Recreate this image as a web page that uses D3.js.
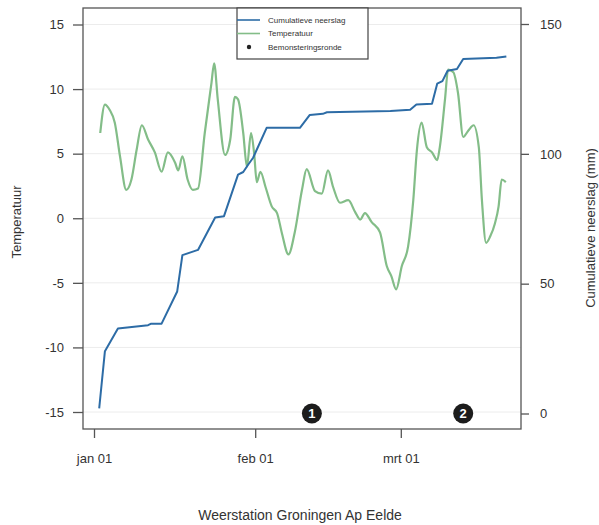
<!DOCTYPE html>
<html>
<head>
<meta charset="utf-8">
<script src="https://cdn.jsdelivr.net/npm/d3@7"></script>
<style>
  html, body { margin: 0; padding: 0; background: #fff; }
  svg { display: block; font-family: "Liberation Sans", Arial, sans-serif; }
</style>
</head>
<body>
<svg id="chart" width="599" height="525"></svg>
<script>
// ---- data (day offset from 1 January) ----
const precipDays = [1, 2.1, 4.6, 10.4, 11, 13, 16, 17, 20, 23.3, 25, 27.7, 28.7, 29.7, 30.6, 33.2, 39.6, 41.5, 44, 44.8, 57, 60.8, 62, 65, 66, 67, 68, 69.8, 71, 77.4, 79.3];
const precipVals = [2, 24, 32.7, 34, 34.6, 34.6, 47, 61, 63, 75.5, 76, 92, 93, 96, 98.5, 110, 110, 115, 115.4, 116, 116.5, 117, 119, 119.3, 127, 128, 132, 132.7, 136.5, 137, 137.5];

const tempDays = [1.2, 2.1, 3, 4, 5, 6.2, 7.2, 8.2, 9.2, 10.4, 11.7, 13, 14.2, 15.6, 16.2, 17, 18, 19, 20, 21.3, 22.6, 23.1, 23.8, 25.2, 26.2, 27.1, 27.7, 28.7, 29.4, 30.2, 30.8, 31.3, 32, 33, 34.2, 35.2, 36.1, 37.4, 38.6, 40, 40.9, 42.5, 43.8, 45, 46, 47.3, 48.9, 50.2, 51.2, 52.1, 53.4, 55, 56.3, 57.2, 58.1, 59.2, 60.4, 61.4, 62.1, 63, 64, 65, 66, 66.5, 67.5, 68.1, 69.1, 70, 71, 72, 73, 74, 74.6, 75.4, 76.2, 77.1, 77.8, 78.4, 79.2];
const tempVals = [6.6, 8.8, 8.4, 7.4, 4.8, 2.2, 3.0, 5.3, 7.2, 6.1, 5.1, 3.6, 5.1, 4.3, 3.7, 4.8, 3.0, 2.2, 2.3, 6.6, 10.5, 12.0, 9.2, 4.9, 6.1, 9.4, 9.2, 6.6, 4.0, 6.6, 5.0, 2.8, 3.6, 2.4, 0.9, 0.4, -1.1, -2.8, -1.1, 2.2, 3.8, 2.1, 1.9, 3.7, 2.4, 1.2, 1.4, 0.5, -0.1, 0.4, -0.3, -1.1, -3.7, -4.5, -5.5, -3.7, -2.2, 1.4, 5.3, 7.4, 5.5, 5.1, 4.5, 5.5, 9.2, 11.5, 11.3, 9.7, 6.3, 6.8, 7.2, 5.5, 1.4, -1.9, -1.4, -0.4, 0.9, 3.0, 2.8];

const markerDays = [41.9, 71];
const markerLabels = ["1", "2"];

const tempTicks = [-15, -10, -5, 0, 5, 10, 15];
const precipTicks = [0, 50, 100, 150];
const dateTicks = ["2015-01-01", "2015-02-01", "2015-03-01"];
const dateTickLabels = ["jan 01", "feb 01", "mrt 01"];

const legendLabels = ["Cumulatieve neerslag", "Temperatuur", "Bemonsteringsronde"];
const titleText = "Weerstation Groningen Ap Eelde";
const leftLabel = "Temperatuur";
const rightLabel = "Cumulatieve neerslag (mm)";

// ---- layout ----
const svg = d3.select("#chart");
const box = { left: 83, right: 521, top: 8, bottom: 429 };
const blue = "#2d6ca6";
const green = "#83bd88";
const axisCol = "#555";
const textCol = "#333";

const start = new Date(2015, 0, 1);
const dayToDate = d => new Date(start.getTime() + d * 86400000);

const x = d3.scaleTime()
  .domain([dayToDate(0), dayToDate(80)])
  .range([94, 94 + 80 * 5.2]);
const yT = d3.scaleLinear().domain([-15, 15]).range([412, 24.5]);
const yP = d3.scaleLinear().domain([0, 150]).range([413.5, 24]);

// gridlines (faint)
svg.append("g").selectAll("line").data(tempTicks).join("line")
  .attr("x1", box.left).attr("x2", box.right)
  .attr("y1", d => yT(d)).attr("y2", d => yT(d))
  .attr("stroke", "#ececec").attr("stroke-width", 1);

// plot box
svg.append("rect")
  .attr("x", box.left).attr("y", box.top)
  .attr("width", box.right - box.left).attr("height", box.bottom - box.top)
  .attr("fill", "none").attr("stroke", axisCol).attr("stroke-width", 1.3);

// left axis
const gL = svg.append("g").attr("transform", `translate(${box.left},0)`)
  .call(d3.axisLeft(yT).tickValues(tempTicks).tickSize(10).tickPadding(9).tickFormat(d3.format("d")));
gL.select(".domain").remove();
gL.selectAll("line").attr("stroke", axisCol).attr("stroke-width", 1.3);
gL.selectAll("text").attr("fill", textCol).style("font-size", "13px")
  .text(d => d < 0 ? "-" + Math.abs(d) : d);

// right axis
const gR = svg.append("g").attr("transform", `translate(${box.right},0)`)
  .call(d3.axisRight(yP).tickValues(precipTicks).tickSize(8).tickPadding(11));
gR.select(".domain").remove();
gR.selectAll("line").attr("stroke", axisCol).attr("stroke-width", 1.3);
gR.selectAll("text").attr("fill", textCol).style("font-size", "13px");

// bottom axis
const parse = d3.timeParse("%Y-%m-%d");
const tickDates = dateTicks.map(parse);
const gB = svg.append("g").attr("transform", `translate(0,${box.bottom})`)
  .call(d3.axisBottom(x).tickValues(tickDates).tickSize(9).tickPadding(16)
    .tickFormat((d, i) => dateTickLabels[i]));
gB.select(".domain").remove();
gB.selectAll("line").attr("stroke", axisCol).attr("stroke-width", 1.3);
gB.selectAll("text").attr("fill", textCol).style("font-size", "13px");

// lines
const precipData = precipDays.map((d, i) => ({ d: dayToDate(d), v: precipVals[i] }));
const tempData = tempDays.map((d, i) => ({ d: dayToDate(d), v: tempVals[i] }));

svg.append("path").datum(tempData)
  .attr("fill", "none").attr("stroke", green).attr("stroke-width", 2.2)
  .attr("stroke-linejoin", "round")
  .attr("d", d3.line().curve(d3.curveMonotoneX).x(p => x(p.d)).y(p => yT(p.v)));

svg.append("path").datum(precipData)
  .attr("fill", "none").attr("stroke", blue).attr("stroke-width", 2)
  .attr("stroke-linejoin", "round")
  .attr("d", d3.line().x(p => x(p.d)).y(p => yP(p.v)));

// markers (sampling rounds)
const mk = svg.append("g").selectAll("g").data(markerDays).join("g")
  .attr("transform", d => `translate(${x(dayToDate(d))},${yP(0)})`);
mk.append("circle").attr("r", 10).attr("fill", "#1c1c1c");
mk.append("text").text((d, i) => markerLabels[i])
  .attr("text-anchor", "middle").attr("dy", "0.36em")
  .attr("fill", "#fff").style("font-size", "13px").style("font-weight", "bold");

// legend
const lg = svg.append("g").attr("transform", "translate(237,8)");
lg.append("rect").attr("width", 131).attr("height", 51)
  .attr("fill", "#fff").attr("stroke", "#444").attr("stroke-width", 1.2);
const rows = [12, 25.5, 39];
lg.append("line").attr("x1", 0).attr("x2", 23).attr("y1", rows[0]).attr("y2", rows[0])
  .attr("stroke", blue).attr("stroke-width", 1.6);
lg.append("line").attr("x1", 0).attr("x2", 23).attr("y1", rows[1]).attr("y2", rows[1])
  .attr("stroke", green).attr("stroke-width", 1.6);
lg.append("circle").attr("cx", 12).attr("cy", rows[2]).attr("r", 2.2).attr("fill", "#222");
lg.selectAll("text.lab").data(legendLabels).join("text").attr("class", "lab")
  .attr("x", 31).attr("y", (d, i) => rows[i]).attr("dy", "0.35em")
  .attr("fill", "#333").style("font-size", "8px").text(d => d);

// axis titles
svg.append("text").attr("transform", "translate(21,222) rotate(-90)")
  .attr("text-anchor", "middle").attr("fill", textCol).style("font-size", "13px").text(leftLabel);
svg.append("text").attr("transform", "translate(595,228) rotate(-90)")
  .attr("text-anchor", "middle").attr("fill", textCol).style("font-size", "13px").text(rightLabel);

// title
svg.append("text").attr("x", 300).attr("y", 520)
  .attr("text-anchor", "middle").attr("fill", textCol).style("font-size", "14px").text(titleText);
</script>
</body>
</html>
